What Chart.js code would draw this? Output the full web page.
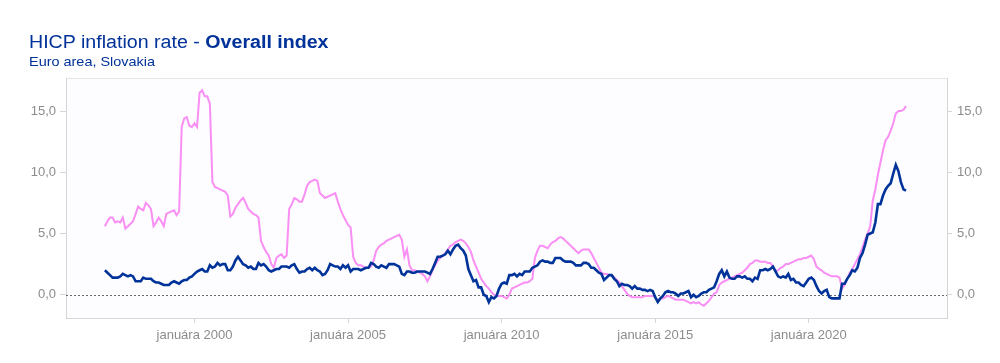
<!DOCTYPE html>
<html>
<head>
<meta charset="utf-8">
<title>HICP inflation rate - Overall index</title>
<script src="https://cdn.jsdelivr.net/npm/chart.js@4.4.1/dist/chart.umd.min.js"></script>
<style>
  body { margin: 0; background: #fff; font-family: "Liberation Sans", Arial, sans-serif; }
  #wrap { position: relative; width: 1000px; height: 363px; }
  #title { position: absolute; left: 29px; top: 32px; font-size: 18px; color: #003299; white-space: nowrap;
           transform: scaleX(1.09); transform-origin: left top; }
  #subtitle { position: absolute; left: 29px; top: 54px; font-size: 13.5px; color: #003299; white-space: nowrap;
              transform: scaleX(1.07); transform-origin: left top; }
  canvas { position: absolute; left: 0; top: 0; }
</style>
</head>
<body>
<div id="wrap">
  <canvas id="chart" width="1000" height="363"></canvas>
  <div id="title">HICP inflation rate - <b>Overall index</b></div>
  <div id="subtitle">Euro area, Slovakia</div>
</div>
<script>
// mesačné údaje od januára 1997
const firstYear = 1997;

const euroArea = [
  2.0, 1.8, 1.6, 1.4, 1.4, 1.4, 1.5, 1.7, 1.6, 1.5, 1.6, 1.5,
  1.1, 1.1, 1.1, 1.4, 1.3, 1.3, 1.3, 1.1, 1.0, 1.0, 0.9, 0.8,
  0.8, 0.8, 1.0, 1.1, 1.0, 0.9, 1.1, 1.2, 1.2, 1.4, 1.5, 1.7,
  1.9, 2.0, 2.1, 1.9, 1.9, 2.4, 2.2, 2.3, 2.6, 2.4, 2.5, 2.5,
  2.0, 2.0, 2.3, 2.8, 3.1, 2.8, 2.5, 2.4, 2.2, 2.3, 2.1, 2.1,
  2.6, 2.4, 2.5, 2.3, 2.0, 1.9, 2.0, 2.1, 2.1, 2.3, 2.3, 2.3,
  2.2, 2.4, 2.5, 2.1, 1.8, 1.9, 1.9, 2.1, 2.2, 2.0, 2.2, 2.0,
  1.9, 1.6, 1.7, 2.0, 2.5, 2.4, 2.3, 2.3, 2.1, 2.4, 2.2, 2.4,
  1.9, 2.1, 2.1, 2.1, 2.0, 2.1, 2.2, 2.2, 2.6, 2.5, 2.3, 2.2,
  2.4, 2.3, 2.2, 2.5, 2.5, 2.5, 2.4, 2.3, 1.7, 1.6, 1.9, 1.9,
  1.8, 1.8, 1.9, 1.9, 1.9, 1.9, 1.8, 1.7, 2.1, 2.6, 3.1, 3.1,
  3.2, 3.3, 3.6, 3.3, 3.7, 4.0, 4.1, 3.8, 3.6, 3.2, 2.1, 1.6,
  1.1, 1.2, 0.6, 0.6, 0.0, -0.1, -0.6, -0.2, -0.3, -0.1, 0.5, 0.9,
  1.0, 0.9, 1.6, 1.6, 1.7, 1.5, 1.7, 1.6, 1.9, 1.9, 1.9, 2.2,
  2.3, 2.4, 2.7, 2.8, 2.7, 2.7, 2.6, 2.6, 3.0, 3.0, 3.0, 2.8,
  2.7, 2.7, 2.7, 2.6, 2.4, 2.4, 2.4, 2.6, 2.6, 2.5, 2.2, 2.2,
  2.0, 1.8, 1.7, 1.2, 1.4, 1.6, 1.6, 1.3, 1.1, 0.7, 0.9, 0.8,
  0.8, 0.7, 0.5, 0.7, 0.5, 0.5, 0.4, 0.4, 0.3, 0.4, 0.3, -0.2,
  -0.6, -0.3, -0.1, 0.2, 0.3, 0.2, 0.2, 0.1, -0.1, 0.1, 0.1, 0.2,
  0.3, -0.2, 0.0, -0.2, -0.1, 0.1, 0.2, 0.2, 0.4, 0.5, 0.6, 1.1,
  1.7, 2.0, 1.5, 1.9, 1.4, 1.3, 1.3, 1.5, 1.5, 1.4, 1.5, 1.3,
  1.3, 1.1, 1.4, 1.3, 2.0, 2.0, 2.1, 2.0, 2.1, 2.3, 1.9, 1.5,
  1.4, 1.5, 1.4, 1.7, 1.2, 1.3, 1.0, 1.0, 0.8, 0.7, 1.0, 1.3,
  1.4, 1.2, 0.7, 0.3, 0.1, 0.3, 0.4, -0.2, -0.3, -0.3, -0.3, -0.3,
  0.9, 0.9, 1.3, 1.6, 2.0, 1.9, 2.2, 3.0, 3.4, 4.1, 4.9, 5.0,
  5.1, 5.9, 7.4, 7.4, 8.1, 8.6, 8.9, 9.1, 9.9, 10.6, 10.1, 9.2,
  8.6, 8.5
];

const slovakia = [
  5.6, 6.0, 6.3, 6.3, 5.9, 6.0, 5.9, 6.3, 5.4, 5.6, 5.8, 6.0,
  6.6, 7.2, 7.0, 6.9, 7.5, 7.3, 7.0, 5.6, 5.9, 6.3, 6.0, 5.6,
  6.6, 6.7, 6.8, 6.9, 6.5, 6.8, 13.7, 14.4, 14.5, 13.8, 13.7, 14.0,
  13.7, 16.5, 16.7, 16.2, 16.2, 15.6, 9.2, 8.8, 8.7, 8.6, 8.5, 8.4,
  8.1, 6.4, 6.6, 7.1, 7.4, 7.7, 7.9, 7.5, 7.0, 6.8, 6.6, 6.5,
  6.3, 4.4, 3.9, 3.5, 3.2, 2.5, 2.2, 3.0, 3.2, 3.3, 3.0, 3.2,
  7.0, 7.4, 7.9, 7.8, 7.6, 7.6, 8.2, 8.9, 9.2, 9.3, 9.4, 9.3,
  8.3, 8.1, 7.9, 8.0, 8.1, 8.2, 8.3, 7.6, 7.0, 6.5, 6.1, 5.7,
  5.5, 3.1, 2.6, 2.4, 2.4, 2.3, 2.2, 2.2, 2.3, 2.8, 3.6, 3.9,
  4.1, 4.2, 4.4, 4.5, 4.6, 4.7, 4.8, 4.9, 4.5, 3.1, 3.7, 2.4,
  2.0, 2.0, 1.9, 1.8, 1.7, 1.5, 1.1, 1.5, 2.0, 2.4, 2.8, 3.0,
  3.2, 3.4, 3.7, 4.0, 4.1, 4.3, 4.4, 4.5, 4.4, 4.2, 3.9, 3.5,
  2.8, 2.3, 1.8, 1.3, 1.0, 0.7, 0.5, 0.2, 0.0, -0.1, -0.1, -0.1,
  -0.2, -0.3, 0.0, 0.5, 0.6, 0.7, 0.8, 0.9, 1.0, 1.0, 1.1, 1.3,
  3.0, 3.6, 4.0, 4.0, 3.9, 3.8, 4.1, 4.3, 4.4, 4.6, 4.7, 4.6,
  4.4, 4.2, 4.0, 3.8, 3.6, 3.4, 3.6, 3.7, 3.7, 3.7, 3.4, 3.0,
  2.6, 2.2, 1.8, 1.7, 1.7, 1.6, 1.6, 1.4, 1.2, 1.0, 0.7, 0.4,
  0.1, -0.1, -0.2, -0.2, -0.2, -0.2, -0.2, -0.1, -0.1, -0.1, -0.1, -0.2,
  -0.5, -0.3, -0.3, -0.2, -0.1, -0.2, -0.3, -0.4, -0.4, -0.4, -0.4, -0.5,
  -0.6, -0.7, -0.6, -0.7, -0.6, -0.8, -0.9, -0.7, -0.5, -0.2, 0.1, 0.2,
  0.8, 1.0, 1.1, 1.2, 1.3, 1.4, 1.5, 1.6, 1.7, 1.8, 2.0, 2.2,
  2.5, 2.6, 2.8, 2.8, 2.7, 2.7, 2.7, 2.6, 2.6, 2.3, 1.9, 2.0,
  2.2, 2.3, 2.5, 2.5, 2.6, 2.7, 2.8, 2.9, 2.9, 3.0, 3.0, 3.1,
  3.2, 2.9, 2.3, 2.1, 2.0, 1.8, 1.7, 1.6, 1.5, 1.5, 1.5, 1.4,
  0.5, 0.8, 1.3, 1.8, 2.1, 2.5, 2.9, 3.3, 3.9, 4.5, 5.0, 5.6,
  7.7, 8.6, 9.8, 10.8, 11.8, 12.6, 12.9, 13.4, 14.0, 14.8, 15.0, 15.0,
  15.1, 15.4
];

const tickYears = [2000, 2005, 2010, 2015, 2020];
const yTicks = [0, 5, 10, 15];

// popisky mesiacov
const months = euroArea.map((v, i) => {
  const y = firstYear + Math.floor(i / 12);
  const m = (i % 12) + 1;
  return y + '-' + (m < 10 ? '0' + m : m);
});

// bod sa kreslí na koniec mesiaca
const toPoints = arr => arr.map((v, i) => ({ x: i + 1, y: v }));
const yearPos = y => (y - firstYear) * 12;

const gray = '#d6d6d6';
const labelGray = '#8c8c8c';

const plotFrame = {
  id: 'plotFrame',
  beforeDraw(chart) {
    const { ctx, chartArea: a } = chart;
    ctx.save();
    ctx.fillStyle = '#fdfcfe';
    ctx.fillRect(a.left, a.top, a.right - a.left, a.bottom - a.top);
    ctx.strokeStyle = '#e6e6e6';
    ctx.lineWidth = 1;
    ctx.beginPath();
    ctx.moveTo(a.left, a.top + 0.5);
    ctx.lineTo(a.right, a.top + 0.5);
    ctx.stroke();
    ctx.restore();
  },
  beforeDatasetsDraw(chart) {
    const { ctx, chartArea: a, scales } = chart;
    const y0 = Math.round(scales.y.getPixelForValue(0)) + 0.5;
    ctx.save();
    ctx.strokeStyle = '#666';
    ctx.lineWidth = 1;
    ctx.setLineDash([2, 2]);
    ctx.beginPath();
    ctx.moveTo(a.left, y0);
    ctx.lineTo(a.right, y0);
    ctx.stroke();
    ctx.restore();
  }
};

Chart.defaults.font.family = '"Liberation Sans", Arial, sans-serif';
Chart.defaults.font.size = 13;
Chart.defaults.color = labelGray;

const yAxis = (pos, w, tl, pad) => ({
  type: 'linear',
  position: pos,
  min: -1.9,
  max: 17.7,
  afterBuildTicks: s => { s.ticks = yTicks.map(v => ({ value: v })); },
  afterFit: s => { s.width = w; },
  grid: { drawOnChartArea: false, drawTicks: true, tickLength: tl, color: gray },
  border: { display: true, color: gray },
  ticks: {
    padding: pad,
    color: labelGray,
    callback: v => v.toFixed(1).replace('.', ',')
  }
});

new Chart(document.getElementById('chart'), {
  type: 'line',
  data: {
    labels: months,
    datasets: [
      {
        label: 'Euro area',
        data: toPoints(euroArea),
        borderColor: '#003399',
        borderWidth: 2.6,
        pointRadius: 0,
        tension: 0,
        yAxisID: 'y'
      },
      {
        label: 'Slovakia',
        data: toPoints(slovakia),
        borderColor: '#f98ef4',
        borderWidth: 2,
        pointRadius: 0,
        tension: 0,
        yAxisID: 'y'
      }
    ]
  },
  options: {
    responsive: false,
    animation: false,
    layout: { padding: { left: 0, right: 0, top: 78, bottom: 0 } },
    plugins: { legend: { display: false }, tooltip: { enabled: false }, title: { display: false } },
    scales: {
      x: {
        type: 'linear',
        min: -14.2,
        max: 330,
        afterBuildTicks: s => { s.ticks = tickYears.map(y => ({ value: yearPos(y) })); },
        afterFit: s => { s.height = 45; },
        grid: { drawOnChartArea: false, drawTicks: true, tickLength: 5, color: gray },
        border: { display: true, color: gray },
        ticks: {
          padding: 5,
          color: labelGray,
          maxRotation: 0,
          autoSkip: false,
          callback: v => 'januára ' + (firstYear + Math.round(v / 12))
        }
      },
      y: yAxis('left', 66, 6, 4),
      y2: yAxis('right', 53, 5, 5)
    }
  },
  plugins: [plotFrame]
});
</script>
</body>
</html>
